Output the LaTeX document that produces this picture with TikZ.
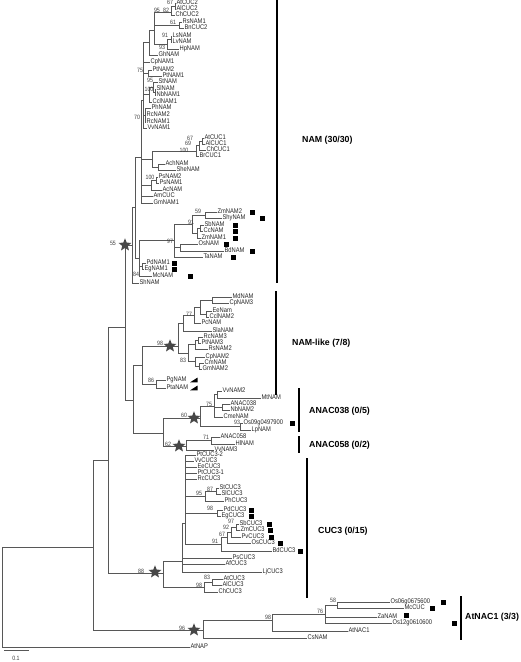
\documentclass[tikz,border=0pt]{standalone}
\usepackage{fontspec}
\setmainfont{Liberation Sans}
\newfontfamily\leaffam[FakeStretch=0.85]{Liberation Sans}
\usetikzlibrary{shapes.geometric}
\newcommand\tN[3]{\coordinate (#1) at (#2,#3);}
\newcommand\tL[4]{\node[leaf] (#1) at (#2,#3) {#4};}
\newcommand\tE[2]{\draw[br] (#1) |- (#2);}
\newcommand\tEL[2]{\draw[br] (#1) |- (#2.west);}
\newcommand\tB[4]{\node[bsn] (#1) at (#2,#3) {#4};}
\newcommand\tQ[3]{\node[sq] (#1) at (#2,#3) {};}
\newcommand\tS[3]{\node[starn] (#1) at (#2,#3) {};}
\newcommand\tT[3]{\fill[black] (#2,#3+2.4) -- (#2+7.5,#3+2.4) -- (#2+7.5,#3-2.4) -- cycle;}
\tikzset{
 br/.style={draw=black!66, line width=0.7pt},
 leaf/.style={anchor=west, inner sep=0.4pt, font=\leaffam\fontsize{6.8}{7}\selectfont, text=black!85, text height=4.8pt, text depth=1.3pt},
 bsn/.style={inner sep=0pt, font=\leaffam\fontsize{6.2}{6.5}\selectfont, text=black!75},
 sq/.style={fill=black, minimum size=5pt, inner sep=0pt},
 starn/.style={star, star points=5, star point ratio=2.3, fill=black!72, draw=none, minimum size=13.5pt, inner sep=0pt},
 grp/.style={anchor=west, font=\bfseries\fontsize{8.8}{10}\selectfont, inner sep=0pt},
 bar/.style={line width=1.8pt, black},
}
\begin{document}
\begin{tikzpicture}[x=1pt,y=-1pt]
\fill[white] (0,0) rectangle (520,662);
\useasboundingbox (0,0) rectangle (520,662);
% ---------------- leaves: NAM
\tL{AtCUC2}{176}{3}{AtCUC2}
\tL{AlCUC2}{176}{9}{AlCUC2}
\tL{ChCUC2}{175}{15}{ChCUC2}
\tL{RsNAM1}{182}{22}{RsNAM1}
\tL{BnCUC2}{184}{28}{BnCUC2}
\tL{LsNAM}{172}{36}{LsNAM}
\tL{LvNAM}{172}{42}{LvNAM}
\tL{HpNAM}{179}{49}{HpNAM}
\tL{GhNAM}{158}{55}{GhNAM}
\tL{CpNAM1}{150}{62}{CpNAM1}
\tL{PtNAM2}{152}{70}{PtNAM2}
\tL{PtNAM1}{162}{76}{PtNAM1}
\tL{StNAM}{158}{82}{StNAM}
\tL{SlNAM}{156}{89}{SlNAM}
\tL{NbNAM1}{156}{95}{NbNAM1}
\tL{CclNAM1}{152}{102}{CclNAM1}
\tL{PhNAM}{151}{108}{PhNAM}
\tL{RcNAM2}{146}{115}{RcNAM2}
\tL{RcNAM1}{146}{122}{RcNAM1}
\tL{VvNAM1}{147}{128}{VvNAM1}
\tL{AtCUC1}{204}{138}{AtCUC1}
\tL{AlCUC1}{205}{144}{AlCUC1}
\tL{ChCUC1}{206}{150}{ChCUC1}
\tL{BrCUC1}{199}{156}{BrCUC1}
\tL{AchNAM}{165}{164}{AchNAM}
\tL{SheNAM}{176}{170}{SheNAM}
\tL{PsNAM2}{158}{177}{PsNAM2}
\tL{PsNAM1}{159}{183}{PsNAM1}
\tL{AcNAM}{162}{190}{AcNAM}
\tL{AmCUC}{153}{196}{AmCUC}
\tL{GmNAM1}{153}{203}{GmNAM1}
\tL{ZmNAM2}{217}{212}{ZmNAM2}
\tL{ShyNAM}{222}{218}{ShyNAM}
\tL{SbNAM}{204}{225}{SbNAM}
\tL{CcNAM}{203}{231}{CcNAM}
\tL{ZmNAM1}{201}{238}{ZmNAM1}
\tL{OsNAM}{198}{244}{OsNAM}
\tL{BdNAM}{224}{251}{BdNAM}
\tL{TaNAM}{203}{257}{TaNAM}
\tL{PdNAM1}{146}{263}{PdNAM1}
\tL{EgNAM1}{144}{269}{EgNAM1}
\tL{McNAM}{152}{276}{McNAM}
\tL{ShNAM}{139}{283}{ShNAM}
% ---------------- leaves: NAM-like
\tL{MdNAM}{232}{297}{MdNAM}
\tL{CpNAM3}{229}{303}{CpNAM3}
\tL{EeNam}{212}{311}{EeNam}
\tL{CclNAM2}{209}{317}{CclNAM2}
\tL{PcNAM}{201}{323}{PcNAM}
\tL{SlaNAM}{212}{331}{SlaNAM}
\tL{RcNAM3}{203}{337}{RcNAM3}
\tL{PtNAM3}{201}{343}{PtNAM3}
\tL{RsNAM2}{208}{349}{RsNAM2}
\tL{CpNAM2}{205}{357}{CpNAM2}
\tL{CmNAM}{204}{363}{CmNAM}
\tL{GmNAM2}{202}{369}{GmNAM2}
\tL{PgNAM}{166}{380}{PgNAM}
\tL{PtaNAM}{166}{388}{PtaNAM}
% ---------------- leaves: ANAC038 / ANAC058
\tL{VvNAM2}{222}{391}{VvNAM2}
\tL{MtNAM}{261}{398}{MtNAM}
\tL{ANAC038}{230}{404}{ANAC038}
\tL{NbNAM2}{230}{410}{NbNAM2}
\tL{CmeNAM}{223}{417}{CmeNAM}
\tL{Os09}{243}{423}{Os09g0497900}
\tL{LpNAM}{251}{430}{LpNAM}
\tL{ANAC058}{220}{437}{ANAC058}
\tL{HlNAM}{235}{444}{HlNAM}
\tL{VvNAM3}{214}{450}{VvNAM3}
% ---------------- leaves: CUC3
\tL{PtCUC3b}{196}{455}{PtCUC3-2}
\tL{VvCUC3}{194}{461}{VvCUC3}
\tL{EeCUC3}{197}{467}{EeCUC3}
\tL{PtCUC3a}{197}{473}{PtCUC3-1}
\tL{RcCUC3}{197}{479}{RcCUC3}
\tL{StCUC3}{219}{488}{StCUC3}
\tL{SlCUC3}{221}{494}{SlCUC3}
\tL{PhCUC3}{224}{501}{PhCUC3}
\tL{PdCUC3}{223}{510}{PdCUC3}
\tL{EgCUC3}{221}{516}{EgCUC3}
\tL{SbCUC3}{239}{524}{SbCUC3}
\tL{ZmCUC3}{240}{530}{ZmCUC3}
\tL{PvCUC3}{241}{537}{PvCUC3}
\tL{OsCUC3}{251}{543}{OsCUC3}
\tL{BdCUC3}{272}{551}{BdCUC3}
\tL{PsCUC3}{232}{558}{PsCUC3}
\tL{AfCUC3}{225}{564}{AfCUC3}
\tL{LjCUC3}{262}{572}{LjCUC3}
\tL{AtCUC3}{223}{579}{AtCUC3}
\tL{AlCUC3}{222}{585}{AlCUC3}
\tL{ChCUC3}{218}{592}{ChCUC3}
% ---------------- leaves: AtNAC1 and outgroup
\tL{Os06}{390}{602}{Os06g0675600}
\tL{McCUC}{404}{608}{McCUC}
\tL{ZaNAM}{377}{617}{ZaNAM}
\tL{Os12}{392}{623}{Os12g0610600}
\tL{AtNAC1}{348}{631}{AtNAC1}
\tL{CsNAM}{307}{638}{CsNAM}
\tL{AtNAP}{190}{647}{AtNAP}
% ---------------- internal nodes
\tN{n67a}{175}{6} \tN{n82}{171}{12} \tN{n61}{179}{25}
\tN{n91a}{171}{39} \tN{n93a}{167}{44} \tN{n95a}{154}{30}
\tN{ngh}{149}{42} \tN{n75a}{148}{73.5} \tN{n100a}{155}{92}
\tN{n95b}{153}{87} \tN{nsol}{149}{94.5} \tN{n70}{145}{115}
\tN{ntop}{143}{100}
\tN{n67b}{202}{141} \tN{n69}{199}{145.5} \tN{n100b}{196}{151}
\tN{nach}{158}{167} \tN{ncuc1}{152}{159} \tN{nps2}{156}{180}
\tN{nps}{151}{185} \tN{ndic}{141}{157}
\tN{n59}{205}{215} \tN{nsbcc}{200}{228} \tN{n91b}{197}{233}
\tN{npan}{192}{224} \tN{nob}{180}{247.5} \tN{n97a}{174}{240.5}
\tN{npe}{142}{266} \tN{nmono}{139}{258} \tN{n135}{135}{207.5}
\tN{n132}{132}{245}
\tN{nmd}{212}{300} \tN{nee}{206}{314} \tN{na1}{200}{307}
\tN{n77}{194}{315} \tN{nup}{183}{323} \tN{nrc}{198}{340}
\tN{nrs}{195}{344.5} \tN{ncm}{199}{366} \tN{ncp}{195}{361.5}
\tN{n83a}{188}{353} \tN{n98a}{178}{346} \tN{npg}{156}{384}
\tN{nnl}{142}{365}
\tN{nvm}{217}{394.5} \tN{nan}{222}{407} \tN{n75b}{214}{406}
\tN{n93b}{240}{426.5} \tN{n60}{200}{418} \tN{n71}{211}{440.5}
\tN{n62}{186}{446} \tN{nanac}{163}{433} \tN{n133}{133}{400}
\tN{n55}{125}{327}
\tN{n87}{216}{491} \tN{n95c}{205}{496} \tN{n98c}{217}{513}
\tN{n97c}{236}{527} \tN{n92c}{231}{532} \tN{n67c}{227}{537.5}
\tN{n91c}{221}{544} \tN{nc3a}{185}{523} \tN{nc3b}{182}{561}
\tN{n83c}{212}{582} \tN{n98d}{204}{587} \tN{n88}{163}{573}
\tN{n108}{108}{460}
\tN{n58}{337}{605} \tN{n76}{325}{614} \tN{n98e}{272}{620}
\tN{n96}{203}{630} \tN{n92r}{93}{547} \tN{root}{2}{597}
% ---------------- edges: NAM
\tEL{n67a}{AtCUC2} \tEL{n67a}{AlCUC2}
\tE{n82}{n67a} \tEL{n82}{ChCUC2}
\tEL{n61}{RsNAM1} \tEL{n61}{BnCUC2}
\tEL{n91a}{LsNAM} \tEL{n91a}{LvNAM}
\tE{n93a}{n91a} \tEL{n93a}{HpNAM}
\tE{n95a}{n82} \tE{n95a}{n61} \tE{n95a}{n93a}
\tE{ngh}{n95a} \tEL{ngh}{GhNAM}
\tEL{n75a}{PtNAM2} \tEL{n75a}{PtNAM1}
\tEL{n100a}{SlNAM} \tEL{n100a}{NbNAM1}
\tEL{n95b}{StNAM} \tE{n95b}{n100a}
\tE{nsol}{n95b} \tEL{nsol}{CclNAM1}
\tEL{n70}{PhNAM} \tEL{n70}{RcNAM2} \tEL{n70}{RcNAM1}
\tE{ntop}{ngh} \tEL{ntop}{CpNAM1} \tE{ntop}{n75a} \tE{ntop}{nsol} \tE{ntop}{n70} \tEL{ntop}{VvNAM1}
\tEL{n67b}{AtCUC1} \tEL{n67b}{AlCUC1}
\tE{n69}{n67b} \tEL{n69}{ChCUC1}
\tE{n100b}{n69} \tEL{n100b}{BrCUC1}
\tEL{nach}{AchNAM} \tEL{nach}{SheNAM}
\tE{ncuc1}{n100b} \tE{ncuc1}{nach}
\tEL{nps2}{PsNAM2} \tEL{nps2}{PsNAM1}
\tE{nps}{nps2} \tEL{nps}{AcNAM}
\tE{ndic}{ntop} \tE{ndic}{ncuc1} \tE{ndic}{nps} \tEL{ndic}{AmCUC} \tEL{ndic}{GmNAM1}
\tEL{n59}{ZmNAM2} \tEL{n59}{ShyNAM}
\tEL{nsbcc}{SbNAM} \tEL{nsbcc}{CcNAM}
\tE{n91b}{nsbcc} \tEL{n91b}{ZmNAM1}
\tE{npan}{n59} \tE{npan}{n91b}
\tEL{nob}{OsNAM} \tEL{nob}{BdNAM}
\tE{n97a}{npan} \tE{n97a}{nob} \tEL{n97a}{TaNAM}
\tEL{npe}{PdNAM1} \tEL{npe}{EgNAM1}
\tE{nmono}{n97a} \tE{nmono}{npe} \tEL{nmono}{McNAM}
\tE{n135}{ndic} \tE{n135}{nmono}
\tE{n132}{n135} \tEL{n132}{ShNAM}
% ---------------- edges: NAM-like
\tEL{nmd}{MdNAM} \tEL{nmd}{CpNAM3}
\tEL{nee}{EeNam} \tEL{nee}{CclNAM2}
\tE{na1}{nmd} \tE{na1}{nee}
\tE{n77}{na1} \tEL{n77}{PcNAM}
\tE{nup}{n77} \tEL{nup}{SlaNAM}
\tEL{nrc}{RcNAM3} \tEL{nrc}{PtNAM3}
\tE{nrs}{nrc} \tEL{nrs}{RsNAM2}
\tEL{ncm}{CmNAM} \tEL{ncm}{GmNAM2}
\tEL{ncp}{CpNAM2} \tE{ncp}{ncm}
\tE{n83a}{nrs} \tE{n83a}{ncp}
\tE{n98a}{nup} \tE{n98a}{n83a}
\tEL{npg}{PgNAM} \tEL{npg}{PtaNAM}
\tE{nnl}{n98a} \tE{nnl}{npg}
% ---------------- edges: ANAC
\tEL{nvm}{VvNAM2} \tEL{nvm}{MtNAM}
\tEL{nan}{ANAC038} \tEL{nan}{NbNAM2}
\tE{n75b}{nvm} \tE{n75b}{nan} \tEL{n75b}{CmeNAM}
\tEL{n93b}{Os09} \tEL{n93b}{LpNAM}
\tE{n60}{n75b} \tE{n60}{n93b}
\tEL{n71}{ANAC058} \tEL{n71}{HlNAM}
\tE{n62}{n71} \tEL{n62}{VvNAM3}
\tE{nanac}{n60} \tE{nanac}{n62}
\tE{n133}{nnl} \tE{n133}{nanac}
\tE{n55}{n132} \tE{n55}{n133}
% ---------------- edges: CUC3
\tEL{n87}{StCUC3} \tEL{n87}{SlCUC3}
\tE{n95c}{n87} \tEL{n95c}{PhCUC3}
\tEL{n98c}{PdCUC3} \tEL{n98c}{EgCUC3}
\tEL{n97c}{SbCUC3} \tEL{n97c}{ZmCUC3}
\tE{n92c}{n97c} \tEL{n92c}{PvCUC3}
\tE{n67c}{n92c} \tEL{n67c}{OsCUC3}
\tE{n91c}{n67c} \tEL{n91c}{BdCUC3}
\tEL{nc3a}{PtCUC3b} \tEL{nc3a}{VvCUC3} \tEL{nc3a}{EeCUC3} \tEL{nc3a}{PtCUC3a} \tEL{nc3a}{RcCUC3}
\tE{nc3a}{n95c} \tE{nc3a}{n98c} \tE{nc3a}{n91c}
\tE{nc3b}{nc3a} \tEL{nc3b}{PsCUC3} \tEL{nc3b}{AfCUC3} \tEL{nc3b}{LjCUC3}
\tEL{n83c}{AtCUC3} \tEL{n83c}{AlCUC3}
\tE{n98d}{n83c} \tEL{n98d}{ChCUC3}
\tE{n88}{nc3b} \tE{n88}{n98d}
\tE{n108}{n55} \tE{n108}{n88}
% ---------------- edges: AtNAC1 and root
\tEL{n58}{Os06} \tEL{n58}{McCUC}
\tE{n76}{n58} \tEL{n76}{ZaNAM} \tEL{n76}{Os12}
\tE{n98e}{n76} \tEL{n98e}{AtNAC1}
\tE{n96}{n98e} \tEL{n96}{CsNAM}
\tE{n92r}{n108} \tE{n92r}{n96}
\tE{root}{n92r} \tEL{root}{AtNAP}
% ---------------- bootstrap values
\tB{b1}{170}{2.5}{67} \tB{b2}{157}{10}{95} \tB{b3}{166}{10}{82}
\tB{b4}{173}{22.5}{61} \tB{b5}{165}{35.5}{91} \tB{b6}{162}{47.5}{93}
\tB{b7}{140}{70}{75} \tB{b8}{150}{80}{95} \tB{b9}{149}{89}{100}
\tB{b10}{137}{117}{70} \tB{b11}{190}{138}{67} \tB{b12}{188}{143.5}{69}
\tB{b13}{184}{150}{100} \tB{b14}{150}{177}{100} \tB{b15}{198}{211.5}{59}
\tB{b16}{191}{222.5}{91} \tB{b17}{170}{241}{97} \tB{b18}{113}{243}{55}
\tB{b19}{136}{274.5}{84} \tB{b20}{189}{314}{77} \tB{b21}{160}{343.5}{98}
\tB{b22}{183}{360}{83} \tB{b23}{151}{380}{86} \tB{b24}{209}{404.5}{75}
\tB{b25}{184}{415}{60} \tB{b26}{237}{422}{93} \tB{b27}{206}{437}{71}
\tB{b28}{168}{444}{62} \tB{b29}{199}{493}{95} \tB{b30}{210}{489.5}{87}
\tB{b31}{210}{508}{98} \tB{b32}{231}{521.5}{97} \tB{b33}{226}{527.5}{92}
\tB{b34}{222}{534}{67} \tB{b35}{215}{541}{91} \tB{b36}{141}{571}{88}
\tB{b37}{207}{577}{83} \tB{b38}{199}{585}{98} \tB{b39}{333}{600}{58}
\tB{b40}{320}{611}{76} \tB{b41}{268}{617}{98} \tB{b42}{182}{628}{96}
% ---------------- stars
\tS{s1}{125}{245} \tS{s2}{170}{346} \tS{s3}{194}{418}
\tS{s4}{179}{446} \tS{s5}{155}{572} \tS{s6}{194}{630}
% ---------------- squares and wedges
\tQ{q1}{252}{212} \tQ{q2}{262}{218} \tQ{q3}{235}{225} \tQ{q4}{235}{231}
\tQ{q5}{235}{238} \tQ{q6}{226}{244} \tQ{q7}{252}{251} \tQ{q8}{233}{257}
\tQ{q9}{174}{263} \tQ{q10}{174}{269} \tQ{q11}{190}{276}
\tQ{q12}{292}{423}
\tQ{q13}{251}{510} \tQ{q14}{251}{516} \tQ{q15}{269}{524} \tQ{q16}{270}{530}
\tQ{q17}{271}{537} \tQ{q18}{280}{543} \tQ{q19}{300}{551}
\tQ{q20}{443}{602} \tQ{q21}{432}{608} \tQ{q22}{406}{615} \tQ{q23}{454}{623}
\tT{t1}{190}{380} \tT{t2}{190}{388}
% ---------------- group bars and labels
\draw[bar] (277,0) -- (277,283);
\draw[bar] (276,291) -- (276,395);
\draw[bar] (299,388) -- (299,432);
\draw[bar] (299,436) -- (299,453);
\draw[bar] (307,458) -- (307,598);
\draw[bar] (461,596) -- (461,640);
\node[grp] (gNAM) at (302,140) {NAM (30/30)};
\node[grp] (gNL) at (292,343) {NAM-like (7/8)};
\node[grp] (g038) at (309,411) {ANAC038 (0/5)};
\node[grp] (g058) at (309,445) {ANAC058 (0/2)};
\node[grp] (gC3) at (318,531) {CUC3 (0/15)};
\node[grp] (gNAC) at (465,617) {AtNAC1 (3/3)};
% ---------------- scale bar
\coordinate (sbA) at (4,650); \coordinate (sbB) at (29,650);
\draw[br] (sbA) -- (sbB);
\node[bsn] (sbl) at (16,658) {0.1};
\end{tikzpicture}
\end{document}
